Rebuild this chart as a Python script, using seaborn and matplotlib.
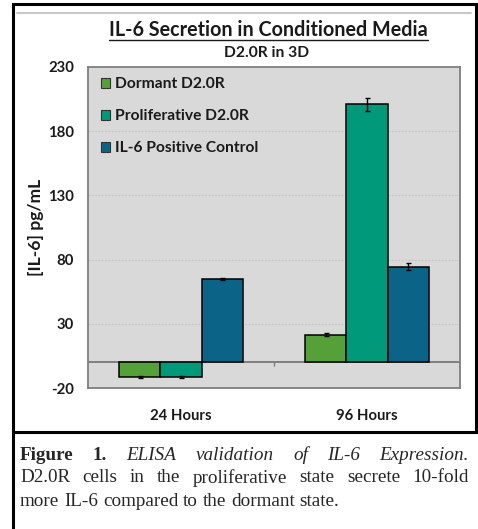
import numpy as np
import pandas as pd
import matplotlib
matplotlib.use("Agg")
import matplotlib.pyplot as plt
import seaborn as sns
from matplotlib.lines import Line2D
from matplotlib.patches import Rectangle

# data
timepoints = ["24 Hours", "96 Hours"]
groups = ["Dormant D2.0R", "Proliferative D2.0R", "IL-6 Positive Control"]
dormant = [-11.5, 21.5]
proliferative = [-11.5, 201.0]
control = [65.0, 74.5]
dormant_err = [0.6, 1.0]
proliferative_err = [0.6, 5.0]
control_err = [0.8, 2.5]
yticks = [-20, 30, 80, 130, 180, 230]

colors = ["#56A03A", "#00997A", "#0B6487"]

df = pd.DataFrame({
    "time": timepoints * 3,
    "group": [g for g in groups for _ in timepoints],
    "value": dormant + proliferative + control,
    "err": dormant_err + proliferative_err + control_err,
})

sns.set_style("white")
plt.rcParams['font.family'] = ['Lato', 'DejaVu Sans']

W, H = 478, 529
fig = plt.figure(figsize=(W / 100, H / 100), dpi=100)
r = fig.canvas.get_renderer()


def size_for(text, target, **kw):
    # font size that gives the text the wanted pixel width
    t = fig.text(0, 0, text, fontsize=10, **kw)
    w = t.get_window_extent(r).width
    t.remove()
    return 10 * target / w


ink = "#1a1a1a"
legend_size = size_for("Proliferative D2.0R", 134, fontweight="bold")
xlab_size = size_for("24 Hours", 62, fontweight="bold")
ytick_size = size_for("230", 26, fontweight="bold")
ylab_size = size_for("[IL-6] pg/mL", 97, fontweight="bold")

ax = fig.add_axes([88 / W, 1 - 388 / H, 372 / W, 321 / H])
ax.set_facecolor("#D9D9D9")

sns.barplot(data=df, x="time", y="value", hue="group", palette=colors,
            hue_order=groups, order=timepoints, width=0.665, gap=0,
            edgecolor="black", linewidth=1.1, errorbar=None, ax=ax,
            saturation=1, zorder=3)

# error bars at each bar centre
for bars, g in zip(ax.containers, groups):
    sub = df[df["group"] == g]
    xs = [p.get_x() + p.get_width() / 2 for p in bars]
    ax.errorbar(xs, sub["value"].values, yerr=sub["err"].values, fmt="none",
                ecolor="black", elinewidth=1.0, capsize=1.8, capthick=1.0, zorder=4)

ax.set_ylim(-20, 230)
ax.set_xlim(-0.5, 1.5)
ax.set_yticks(yticks)
ax.set_yticklabels([str(t) for t in yticks], fontsize=ytick_size, fontweight="bold", color=ink)
ax.set_xticklabels(timepoints, fontsize=xlab_size, fontweight="bold", color=ink)
ax.tick_params(axis="x", length=0, pad=15)
ax.tick_params(axis="y", length=4, color="#808080", width=1, pad=6)
ax.set_xlabel("")
ax.set_ylabel("[IL-6] pg/mL", fontsize=ylab_size, fontweight="bold", labelpad=3, color=ink)
for t in yticks[1:-1]:
    ax.axhline(t, color="#C4C4C4", linestyle=(0, (1.5, 1.5)), linewidth=0.8, zorder=1)
ax.axhline(0, color="#7F7F7F", linewidth=1.4, zorder=2)
ax.vlines(0.5, -2.5, 0, color="#7F7F7F", linewidth=1, zorder=2)
for s in ax.spines.values():
    s.set_color("#7F7F7F")
    s.set_linewidth(1.3)

leg = ax.legend(loc="upper left", bbox_to_anchor=(-0.004, 1.012), frameon=False,
                handlelength=0.6, handleheight=0.6, handletextpad=0.3,
                labelspacing=1.15, prop={"family": "Lato", "weight": "bold", "size": legend_size})
for h in leg.legend_handles:
    h.set_edgecolor("#333333")
    h.set_linewidth(0.8)
for t in leg.get_texts():
    t.set_color(ink)

title_size = size_for("IL-6 Secretion in Conditioned Media", 319, fontweight="bold")
sub_size = size_for("D2.0R in 3D", 85, fontweight="bold")
fig.text(268.5 / W, 1 - 30 / H, "IL-6 Secretion in Conditioned Media", ha="center",
         va="center", fontsize=title_size, fontweight="bold", color=ink)
fig.add_artist(Line2D([109 / W, 428 / W], [1 - 39.5 / H] * 2, color=ink, lw=1.0))
fig.text(266.5 / W, 1 - 53 / H, "D2.0R in 3D", ha="center", va="center",
         fontsize=sub_size, fontweight="bold", color=ink)

# frames
fig.add_artist(Line2D([17 / W, 471 / W], [1 - 13 / H] * 2, color="#C8C8C8", lw=1.5))
fig.add_artist(Rectangle((13 / W, 1 - 432 / H), 463 / W, 428 / H, fill=False,
                         edgecolor="black", lw=2.2, transform=fig.transFigure))
fig.add_artist(Line2D([13 / W, 13 / W], [0, 1 - 432 / H], color="black", lw=2.2))

# justified caption
lines = [
    [("Figure", "bold", "normal"), ("1.", "bold", "normal"), ("ELISA", "normal", "italic"),
     ("validation", "normal", "italic"), ("of", "normal", "italic"), ("IL-6", "normal", "italic"),
     ("Expression.", "normal", "italic")],
    [(w, "normal", "normal") for w in "D2.0R cells in the proliferative state secrete 10-fold".split()],
    [(w, "normal", "normal") for w in "more IL-6 compared to the dormant state.".split()],
]
x0, x1 = 20, 469
ys = [455, 478, 501]
cap_size = 13.8
for i, (words, y) in enumerate(zip(lines, ys)):
    arts = [fig.text(0, 1 - y / H, w, fontsize=cap_size, family="Liberation Serif", weight=wt,
                     style=st, va="center", ha="left") for w, wt, st in words]
    widths = [a.get_window_extent(r).width for a in arts]
    if i < len(lines) - 1:
        gap = (x1 - x0 - sum(widths)) / (len(words) - 1)
    else:
        gap = cap_size * 100 / 72 * 0.25
    x = x0
    for a, w in zip(arts, widths):
        a.set_x(x / W)
        x += w + gap

fig.savefig("out.png", dpi=100)
